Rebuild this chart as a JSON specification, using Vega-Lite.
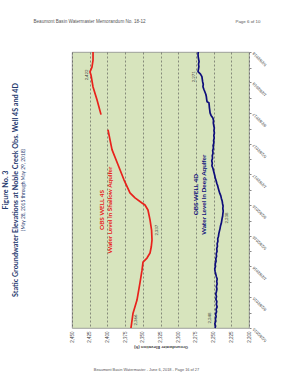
{
  "$schema": "https://vega.github.io/schema/vega-lite/v6.json",
  "width": 177,
  "height": 276,
  "autosize": {"type": "none"},
  "padding": {"left": 72, "top": 52, "right": 44, "bottom": 52},
  "background": "white",
  "config": {
    "view": {"fill": "#d7e4bd", "stroke": "#8c8c8c", "strokeWidth": 0.8},
    "font": "Lato",
    "axis": {"labelFont": "Liberation Sans", "titleFont": "Liberation Sans"}
  },
  "title": {
    "text": ["Figure No. 3", "Static Groundwater Elevations at Noble Creek Obs. Well 4S and 4D"],
    "subtitle": "(May 28, 2015 through May 29, 2018)",
    "orient": "left",
    "anchor": "middle",
    "frame": "group",
    "offset": 7,
    "font": "Lato",
    "fontSize": 7.2,
    "fontWeight": "bold",
    "color": "#1f3a6e",
    "lineHeight": 10,
    "subtitleFont": "Lato",
    "subtitleFontSize": 4.9,
    "subtitleColor": "#1f3a6e",
    "subtitlePadding": 2
  },
  "datasets": {
    "levels": [
      {"well": "4S", "segment": "4S-1", "date": "2015-05-28", "elevation": 2366.7},
      {"well": "4S", "segment": "4S-1", "date": "2015-07-26", "elevation": 2363.8},
      {"well": "4S", "segment": "4S-1", "date": "2015-09-16", "elevation": 2358.2},
      {"well": "4S", "segment": "4S-1", "date": "2015-11-23", "elevation": 2354.0},
      {"well": "4S", "segment": "4S-1", "date": "2016-01-13", "elevation": 2351.1},
      {"well": "4S", "segment": "4S-1", "date": "2016-02-14", "elevation": 2349.7},
      {"well": "4S", "segment": "4S-1", "date": "2016-03-01", "elevation": 2344.1},
      {"well": "4S", "segment": "4S-1", "date": "2016-03-21", "elevation": 2339.8},
      {"well": "4S", "segment": "4S-1", "date": "2016-04-15", "elevation": 2338.0},
      {"well": "4S", "segment": "4S-1", "date": "2016-05-12", "elevation": 2337.0},
      {"well": "4S", "segment": "4S-1", "date": "2016-06-20", "elevation": 2337.6},
      {"well": "4S", "segment": "4S-1", "date": "2016-07-31", "elevation": 2339.8},
      {"well": "4S", "segment": "4S-1", "date": "2016-09-08", "elevation": 2342.7},
      {"well": "4S", "segment": "4S-1", "date": "2016-09-28", "elevation": 2346.9},
      {"well": "4S", "segment": "4S-1", "date": "2016-10-06", "elevation": 2351.1},
      {"well": "4S", "segment": "4S-1", "date": "2016-10-26", "elevation": 2361.0},
      {"well": "4S", "segment": "4S-1", "date": "2016-11-15", "elevation": 2368.1},
      {"well": "4S", "segment": "4S-1", "date": "2017-01-06", "elevation": 2376.6},
      {"well": "4S", "segment": "4S-1", "date": "2017-03-07", "elevation": 2385.0},
      {"well": "4S", "segment": "4S-1", "date": "2017-05-06", "elevation": 2393.5},
      {"well": "4S", "segment": "4S-1", "date": "2017-07-24", "elevation": 2399.2},
      {"well": "4S", "segment": "4S-2", "date": "2017-09-22", "elevation": 2409.0},
      {"well": "4S", "segment": "4S-2", "date": "2017-11-20", "elevation": 2414.7},
      {"well": "4S", "segment": "4S-2", "date": "2018-01-10", "elevation": 2420.3},
      {"well": "4S", "segment": "4S-2", "date": "2018-02-27", "elevation": 2423.2},
      {"well": "4S", "segment": "4S-2", "date": "2018-03-11", "elevation": 2424.6},
      {"well": "4S", "segment": "4S-2", "date": "2018-03-30", "elevation": 2421.8},
      {"well": "4S", "segment": "4S-2", "date": "2018-04-27", "elevation": 2420.3},
      {"well": "4S", "segment": "4S-2", "date": "2018-05-29", "elevation": 2420.3},
      {"well": "4D", "segment": "4D", "date": "2015-05-28", "elevation": 2248.0},
      {"well": "4D", "segment": "4D", "date": "2015-06-05", "elevation": 2247.2},
      {"well": "4D", "segment": "4D", "date": "2015-06-14", "elevation": 2248.3},
      {"well": "4D", "segment": "4D", "date": "2015-06-24", "elevation": 2246.9},
      {"well": "4D", "segment": "4D", "date": "2015-07-03", "elevation": 2247.5},
      {"well": "4D", "segment": "4D", "date": "2015-07-12", "elevation": 2246.4},
      {"well": "4D", "segment": "4D", "date": "2015-07-22", "elevation": 2247.1},
      {"well": "4D", "segment": "4D", "date": "2015-08-01", "elevation": 2245.8},
      {"well": "4D", "segment": "4D", "date": "2015-08-10", "elevation": 2246.5},
      {"well": "4D", "segment": "4D", "date": "2015-08-20", "elevation": 2245.0},
      {"well": "4D", "segment": "4D", "date": "2015-08-30", "elevation": 2246.2},
      {"well": "4D", "segment": "4D", "date": "2015-09-10", "elevation": 2245.4},
      {"well": "4D", "segment": "4D", "date": "2015-09-20", "elevation": 2246.8},
      {"well": "4D", "segment": "4D", "date": "2015-09-30", "elevation": 2245.9},
      {"well": "4D", "segment": "4D", "date": "2015-10-10", "elevation": 2246.9},
      {"well": "4D", "segment": "4D", "date": "2015-10-20", "elevation": 2246.0},
      {"well": "4D", "segment": "4D", "date": "2015-10-30", "elevation": 2245.3},
      {"well": "4D", "segment": "4D", "date": "2015-11-09", "elevation": 2246.1},
      {"well": "4D", "segment": "4D", "date": "2015-11-19", "elevation": 2245.0},
      {"well": "4D", "segment": "4D", "date": "2015-11-29", "elevation": 2245.6},
      {"well": "4D", "segment": "4D", "date": "2015-12-09", "elevation": 2244.9},
      {"well": "4D", "segment": "4D", "date": "2015-12-19", "elevation": 2246.2},
      {"well": "4D", "segment": "4D", "date": "2015-12-29", "elevation": 2247.0},
      {"well": "4D", "segment": "4D", "date": "2016-01-08", "elevation": 2247.9},
      {"well": "4D", "segment": "4D", "date": "2016-01-18", "elevation": 2248.4},
      {"well": "4D", "segment": "4D", "date": "2016-01-28", "elevation": 2247.3},
      {"well": "4D", "segment": "4D", "date": "2016-02-07", "elevation": 2247.8},
      {"well": "4D", "segment": "4D", "date": "2016-02-17", "elevation": 2246.5},
      {"well": "4D", "segment": "4D", "date": "2016-02-27", "elevation": 2246.9},
      {"well": "4D", "segment": "4D", "date": "2016-03-08", "elevation": 2245.8},
      {"well": "4D", "segment": "4D", "date": "2016-03-18", "elevation": 2246.3},
      {"well": "4D", "segment": "4D", "date": "2016-03-28", "elevation": 2245.1},
      {"well": "4D", "segment": "4D", "date": "2016-04-07", "elevation": 2245.6},
      {"well": "4D", "segment": "4D", "date": "2016-04-17", "elevation": 2244.6},
      {"well": "4D", "segment": "4D", "date": "2016-04-27", "elevation": 2245.0},
      {"well": "4D", "segment": "4D", "date": "2016-05-07", "elevation": 2243.9},
      {"well": "4D", "segment": "4D", "date": "2016-05-17", "elevation": 2244.2},
      {"well": "4D", "segment": "4D", "date": "2016-05-27", "elevation": 2243.1},
      {"well": "4D", "segment": "4D", "date": "2016-06-06", "elevation": 2242.6},
      {"well": "4D", "segment": "4D", "date": "2016-06-16", "elevation": 2241.8},
      {"well": "4D", "segment": "4D", "date": "2016-06-26", "elevation": 2240.9},
      {"well": "4D", "segment": "4D", "date": "2016-07-06", "elevation": 2240.3},
      {"well": "4D", "segment": "4D", "date": "2016-07-16", "elevation": 2239.2},
      {"well": "4D", "segment": "4D", "date": "2016-07-26", "elevation": 2238.6},
      {"well": "4D", "segment": "4D", "date": "2016-08-05", "elevation": 2238.0},
      {"well": "4D", "segment": "4D", "date": "2016-08-15", "elevation": 2237.2},
      {"well": "4D", "segment": "4D", "date": "2016-08-25", "elevation": 2236.9},
      {"well": "4D", "segment": "4D", "date": "2016-09-04", "elevation": 2236.4},
      {"well": "4D", "segment": "4D", "date": "2016-09-14", "elevation": 2237.0},
      {"well": "4D", "segment": "4D", "date": "2016-09-24", "elevation": 2236.6},
      {"well": "4D", "segment": "4D", "date": "2016-10-04", "elevation": 2237.4},
      {"well": "4D", "segment": "4D", "date": "2016-10-14", "elevation": 2237.9},
      {"well": "4D", "segment": "4D", "date": "2016-10-24", "elevation": 2239.0},
      {"well": "4D", "segment": "4D", "date": "2016-11-03", "elevation": 2239.8},
      {"well": "4D", "segment": "4D", "date": "2016-11-13", "elevation": 2241.2},
      {"well": "4D", "segment": "4D", "date": "2016-11-23", "elevation": 2242.3},
      {"well": "4D", "segment": "4D", "date": "2016-12-03", "elevation": 2243.4},
      {"well": "4D", "segment": "4D", "date": "2016-12-13", "elevation": 2244.2},
      {"well": "4D", "segment": "4D", "date": "2016-12-23", "elevation": 2245.5},
      {"well": "4D", "segment": "4D", "date": "2017-01-02", "elevation": 2246.4},
      {"well": "4D", "segment": "4D", "date": "2017-01-12", "elevation": 2247.6},
      {"well": "4D", "segment": "4D", "date": "2017-01-22", "elevation": 2248.3},
      {"well": "4D", "segment": "4D", "date": "2017-02-01", "elevation": 2249.2},
      {"well": "4D", "segment": "4D", "date": "2017-02-11", "elevation": 2250.1},
      {"well": "4D", "segment": "4D", "date": "2017-02-21", "elevation": 2251.0},
      {"well": "4D", "segment": "4D", "date": "2017-03-03", "elevation": 2252.4},
      {"well": "4D", "segment": "4D", "date": "2017-03-13", "elevation": 2251.8},
      {"well": "4D", "segment": "4D", "date": "2017-03-23", "elevation": 2252.6},
      {"well": "4D", "segment": "4D", "date": "2017-04-02", "elevation": 2251.5},
      {"well": "4D", "segment": "4D", "date": "2017-04-12", "elevation": 2251.9},
      {"well": "4D", "segment": "4D", "date": "2017-04-22", "elevation": 2250.8},
      {"well": "4D", "segment": "4D", "date": "2017-05-02", "elevation": 2251.3},
      {"well": "4D", "segment": "4D", "date": "2017-05-12", "elevation": 2250.2},
      {"well": "4D", "segment": "4D", "date": "2017-05-22", "elevation": 2250.7},
      {"well": "4D", "segment": "4D", "date": "2017-06-01", "elevation": 2249.6},
      {"well": "4D", "segment": "4D", "date": "2017-06-11", "elevation": 2250.0},
      {"well": "4D", "segment": "4D", "date": "2017-06-21", "elevation": 2249.1},
      {"well": "4D", "segment": "4D", "date": "2017-07-01", "elevation": 2249.7},
      {"well": "4D", "segment": "4D", "date": "2017-07-11", "elevation": 2248.9},
      {"well": "4D", "segment": "4D", "date": "2017-07-21", "elevation": 2249.5},
      {"well": "4D", "segment": "4D", "date": "2017-07-31", "elevation": 2249.0},
      {"well": "4D", "segment": "4D", "date": "2017-08-10", "elevation": 2249.8},
      {"well": "4D", "segment": "4D", "date": "2017-08-20", "elevation": 2250.4},
      {"well": "4D", "segment": "4D", "date": "2017-08-30", "elevation": 2250.1},
      {"well": "4D", "segment": "4D", "date": "2017-09-09", "elevation": 2251.0},
      {"well": "4D", "segment": "4D", "date": "2017-09-19", "elevation": 2253.6},
      {"well": "4D", "segment": "4D", "date": "2017-09-29", "elevation": 2255.0},
      {"well": "4D", "segment": "4D", "date": "2017-10-09", "elevation": 2255.4},
      {"well": "4D", "segment": "4D", "date": "2017-10-19", "elevation": 2255.9},
      {"well": "4D", "segment": "4D", "date": "2017-10-29", "elevation": 2256.2},
      {"well": "4D", "segment": "4D", "date": "2017-11-08", "elevation": 2256.6},
      {"well": "4D", "segment": "4D", "date": "2017-11-12", "elevation": 2259.2},
      {"well": "4D", "segment": "4D", "date": "2017-11-22", "elevation": 2259.8},
      {"well": "4D", "segment": "4D", "date": "2017-12-02", "elevation": 2260.2},
      {"well": "4D", "segment": "4D", "date": "2017-12-12", "elevation": 2261.0},
      {"well": "4D", "segment": "4D", "date": "2017-12-22", "elevation": 2262.4},
      {"well": "4D", "segment": "4D", "date": "2018-01-01", "elevation": 2263.8},
      {"well": "4D", "segment": "4D", "date": "2018-01-11", "elevation": 2265.0},
      {"well": "4D", "segment": "4D", "date": "2018-01-21", "elevation": 2264.6},
      {"well": "4D", "segment": "4D", "date": "2018-01-31", "elevation": 2265.5},
      {"well": "4D", "segment": "4D", "date": "2018-02-10", "elevation": 2266.0},
      {"well": "4D", "segment": "4D", "date": "2018-02-20", "elevation": 2266.5},
      {"well": "4D", "segment": "4D", "date": "2018-03-02", "elevation": 2268.5},
      {"well": "4D", "segment": "4D", "date": "2018-03-12", "elevation": 2272.0},
      {"well": "4D", "segment": "4D", "date": "2018-03-22", "elevation": 2271.4},
      {"well": "4D", "segment": "4D", "date": "2018-04-01", "elevation": 2270.8},
      {"well": "4D", "segment": "4D", "date": "2018-04-11", "elevation": 2271.3},
      {"well": "4D", "segment": "4D", "date": "2018-04-21", "elevation": 2270.5},
      {"well": "4D", "segment": "4D", "date": "2018-05-01", "elevation": 2271.2},
      {"well": "4D", "segment": "4D", "date": "2018-05-11", "elevation": 2271.8},
      {"well": "4D", "segment": "4D", "date": "2018-05-21", "elevation": 2272.0},
      {"well": "4D", "segment": "4D", "date": "2018-05-29", "elevation": 2271.6}
    ],
    "notes": [
      {"well": "4S", "label": "OBS WELL 4S\nWater Level in Shallow Aquifer", "date": "2016-09-08", "elevation": 2408},
      {"well": "4D", "label": "OBS WELL 4D\nWater Level in Deep Aquifer", "date": "2016-11-08", "elevation": 2275}
    ],
    "callouts": [
      {"well": "4S", "side": "left", "date": "2018-02-27", "elevation": 2422},
      {"well": "4S", "side": "right", "date": "2016-06-20", "elevation": 2337},
      {"well": "4S", "side": "right", "date": "2015-06-29", "elevation": 2366},
      {"well": "4D", "side": "left", "date": "2018-02-20", "elevation": 2271},
      {"well": "4D", "side": "right", "date": "2016-08-07", "elevation": 2238},
      {"well": "4D", "side": "left", "date": "2015-07-07", "elevation": 2248}
    ],
    "page": [
      {"v": 0}
    ]
  },
  "layer": [
    {
      "encoding": {
        "x": {
          "field": "elevation",
          "type": "quantitative",
          "scale": {"domain": [2200, 2450], "reverse": true, "nice": false, "zero": false},
          "axis": {
            "orient": "bottom",
            "values": [2200, 2225, 2250, 2275, 2300, 2325, 2350, 2375, 2400, 2425, 2450],
            "format": ",.0f",
            "labelAngle": 270,
            "labelAlign": "right",
            "labelBaseline": "middle",
            "labelFontSize": 4.5,
            "labelColor": "#444444",
            "labelPadding": 3,
            "ticks": false,
            "domain": false,
            "grid": true,
            "gridColor": "#4d4d4d",
            "gridDash": [2, 2],
            "gridWidth": 0.6,
            "title": "Groundwater Elevation (ft)",
            "titleAngle": 180,
            "titleBaseline": "bottom",
            "titleFontSize": 4.3,
            "titleFontWeight": "bold",
            "titleColor": "#444444",
            "titlePadding": 2
          }
        },
        "y": {
          "field": "date",
          "type": "temporal",
          "scale": {"domain": [{"year": 2015, "month": 5, "date": 28}, {"year": 2018, "month": 5, "date": 29}]},
          "axis": {
            "orient": "right",
            "values": [
              {"year": 2015, "month": 5, "date": 28}, {"year": 2015, "month": 7, "date": 28},
              {"year": 2015, "month": 9, "date": 28}, {"year": 2015, "month": 11, "date": 28},
              {"year": 2016, "month": 1, "date": 28}, {"year": 2016, "month": 3, "date": 28},
              {"year": 2016, "month": 5, "date": 28}, {"year": 2016, "month": 7, "date": 28},
              {"year": 2016, "month": 9, "date": 28}, {"year": 2016, "month": 11, "date": 28},
              {"year": 2017, "month": 1, "date": 28}, {"year": 2017, "month": 3, "date": 28},
              {"year": 2017, "month": 5, "date": 28}, {"year": 2017, "month": 7, "date": 28},
              {"year": 2017, "month": 9, "date": 28}, {"year": 2017, "month": 11, "date": 28},
              {"year": 2018, "month": 1, "date": 28}, {"year": 2018, "month": 3, "date": 28},
              {"year": 2018, "month": 5, "date": 28}
            ],
            "format": "%-m/%-d/%Y",
            "labelAngle": 225,
            "labelAlign": "right",
            "labelBaseline": "middle",
            "labelFontSize": 4,
            "labelColor": "#444444",
            "labelPadding": 2,
            "tickSize": 2,
            "tickColor": "#888888",
            "domain": false,
            "grid": false,
            "title": null
          }
        }
      },
      "layer": [
        {
          "data": {"name": "levels"},
          "mark": {"type": "line", "strokeWidth": 1.7, "strokeJoin": "round"},
          "encoding": {
            "color": {"field": "well", "type": "nominal", "scale": {"domain": ["4S", "4D"], "range": ["#e8211b", "#0d0d7a"]}, "legend": null},
            "detail": {"field": "segment", "type": "nominal"},
            "order": {"field": "date", "type": "temporal"}
          }
        },
        {
          "data": {"name": "notes"},
          "mark": {"type": "text", "angle": 270, "fontSize": 6.4, "fontWeight": "bold", "lineBreak": "\n", "lineHeight": 8, "align": "center", "baseline": "middle", "font": "Lato"},
          "encoding": {
            "text": {"field": "label"},
            "color": {"field": "well", "type": "nominal"}
          }
        },
        {
          "data": {"name": "callouts"},
          "transform": [{"filter": "datum.side === 'left'"}],
          "mark": {"type": "text", "angle": 270, "fontSize": 4.3, "color": "#444444", "align": "center", "baseline": "bottom", "dy": -3},
          "encoding": {
            "text": {"field": "elevation", "type": "quantitative", "format": ",.0f"}
          }
        },
        {
          "data": {"name": "callouts"},
          "transform": [{"filter": "datum.side === 'right'"}],
          "mark": {"type": "text", "angle": 270, "fontSize": 4.3, "color": "#444444", "align": "center", "baseline": "top", "dy": 3},
          "encoding": {
            "text": {"field": "elevation", "type": "quantitative", "format": ",.0f"}
          }
        }
      ]
    },
    {
      "data": {"name": "page"},
      "mark": {"type": "point", "opacity": 0},
      "encoding": {
        "x": {
          "field": "v", "type": "quantitative",
          "axis": {"orient": "top", "labels": false, "ticks": false, "domain": false, "grid": false,
            "title": "Beaumont Basin Watermaster Memorandum No. 18-12",
            "titleX": -39, "titleY": -30, "titleAlign": "left", "titleAngle": 0, "titleBaseline": "alphabetic",
            "titleFontSize": 4.6, "titleFontWeight": "normal", "titleColor": "#555555"}
        },
        "y": {
          "field": "v", "type": "quantitative",
          "axis": {"orient": "left", "labels": false, "ticks": false, "domain": false, "grid": false,
            "title": "Page 6 of 10",
            "titleX": 163, "titleY": -30, "titleAlign": "left", "titleAngle": 0, "titleBaseline": "alphabetic",
            "titleFontSize": 4.4, "titleFontWeight": "normal", "titleColor": "#555555"}
        }
      }
    },
    {
      "data": {"name": "page"},
      "mark": {"type": "point", "opacity": 0},
      "encoding": {
        "x": {
          "field": "v", "type": "quantitative",
          "axis": {"orient": "bottom", "labels": false, "ticks": false, "domain": false, "grid": false,
            "title": "Beaumont Basin Watermaster - June 6, 2018 - Page 16 of 27",
            "titleX": 74, "titleY": 42, "titleAlign": "center", "titleAngle": 0, "titleBaseline": "alphabetic",
            "titleFontSize": 3.9, "titleFontWeight": "normal", "titleColor": "#555555"}
        }
      }
    }
  ],
  "resolve": {"scale": {"x": "independent", "y": "independent"}, "axis": {"x": "independent", "y": "independent"}}
}
